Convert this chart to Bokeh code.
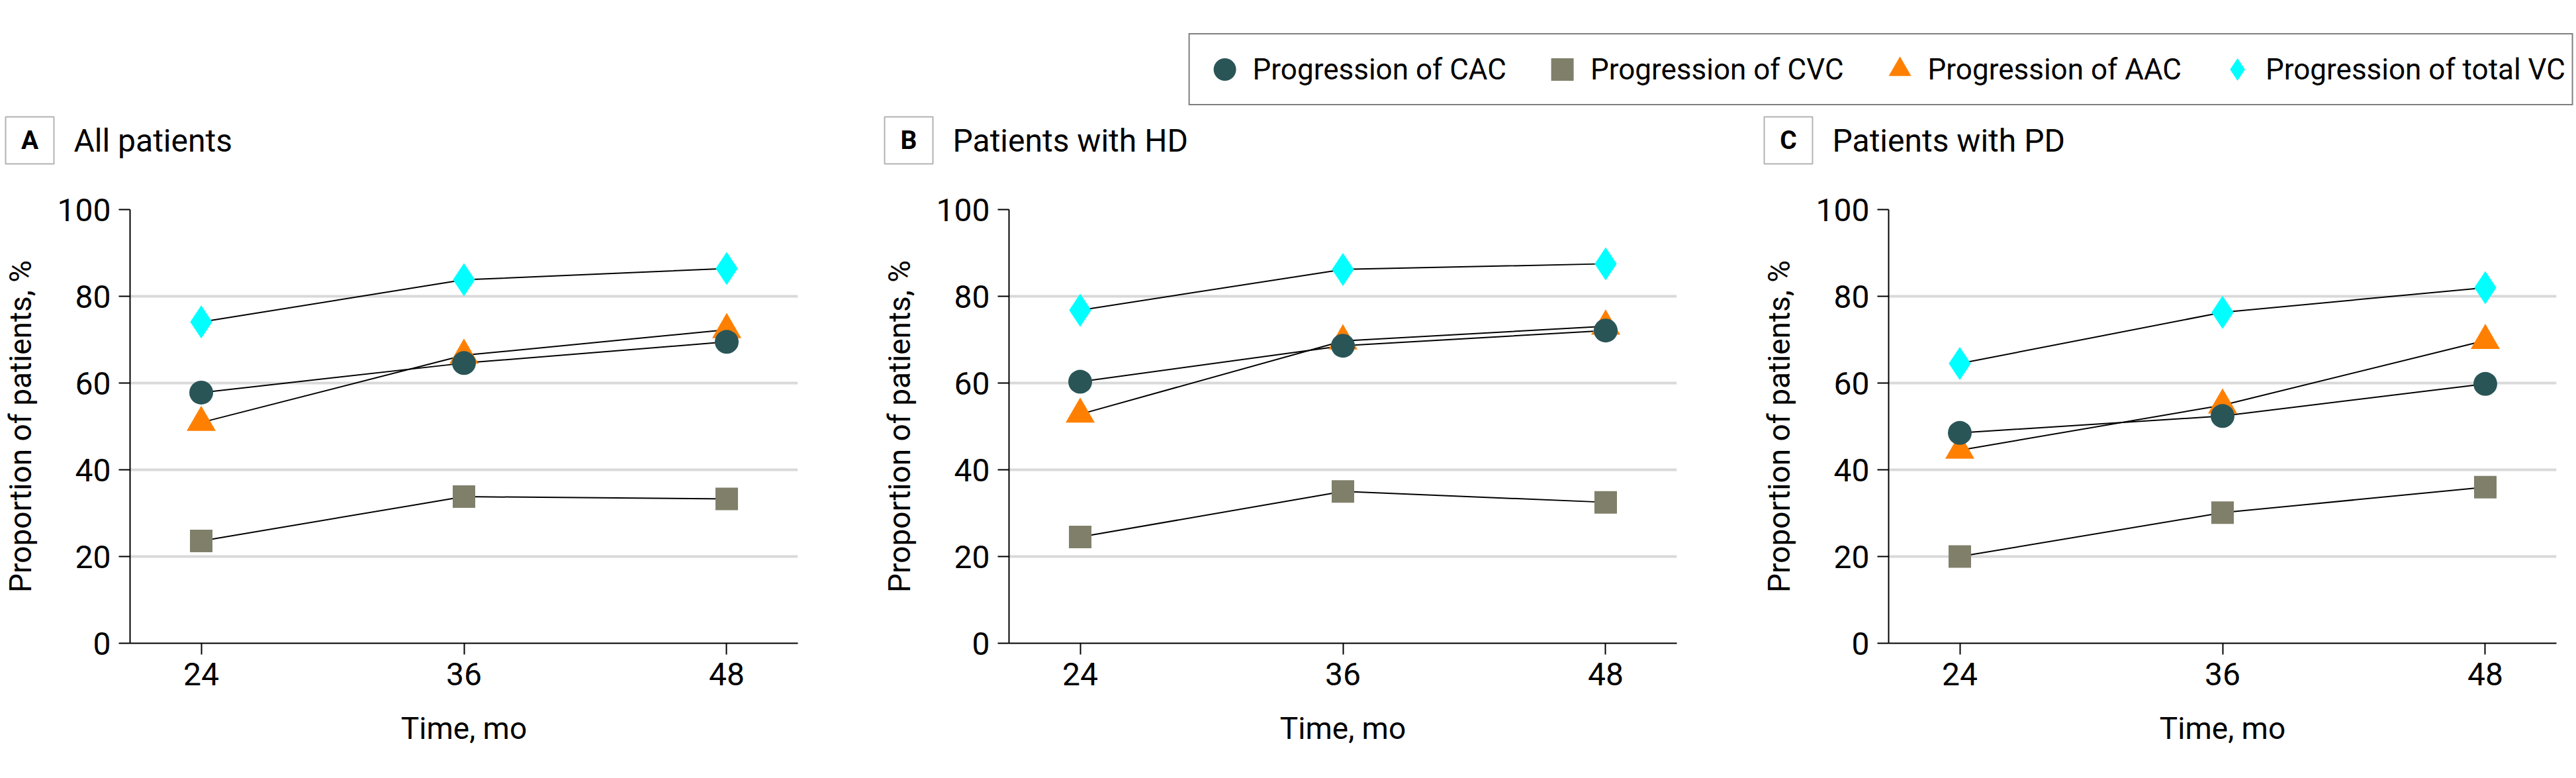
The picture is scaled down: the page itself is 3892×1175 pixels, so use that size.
from bokeh.plotting import figure
from bokeh.models import Range1d, FixedTicker, Legend, LegendItem, Label, BoxAnnotation
from bokeh.layouts import column, row
from bokeh.embed import file_html
from bokeh.resources import INLINE

# ---------------- data ----------------
months = [24, 36, 48]
x_ticks = [24, 36, 48]
y_ticks = [0, 20, 40, 60, 80, 100]

panel_letters = ["A", "B", "C"]
panel_titles = ["All patients", "Patients with HD", "Patients with PD"]
series_names = ["Progression of CAC", "Progression of CVC",
                "Progression of AAC", "Progression of total VC"]

cac_all = [57.8, 64.6, 69.5]
cvc_all = [23.6, 33.8, 33.3]
aac_all = [50.9, 66.4, 72.3]
tvc_all = [74.1, 83.8, 86.4]

cac_hd = [60.3, 68.6, 72.1]
cvc_hd = [24.5, 35.0, 32.5]
aac_hd = [52.8, 69.7, 73.1]
tvc_hd = [76.8, 86.2, 87.5]

cac_pd = [48.5, 52.4, 59.8]
cvc_pd = [20.0, 30.1, 36.0]
aac_pd = [44.5, 54.9, 69.8]
tvc_pd = [64.5, 76.3, 82.0]

# ---------------- style ----------------
FONT = "Roboto"
COLORS = ["#2a5557", "#807f6a", "#ff8000", "#00ffff"]
MARKERS = ["circle", "square", "triangle", "diamond"]
SIZES = [36, 34, 44, 50]
DRAW_ORDER = [1, 2, 0, 3]   # markers: square, triangle, circle, diamond

PAGE_W = 3892
PAGE_H = 1175
HEADER_H = 263
FRAME_W = 1013
BORDER_L = 192
PITCH = 1328.5

panels_data = [
    [cac_all, cvc_all, aac_all, tvc_all],
    [cac_hd, cvc_hd, aac_hd, tvc_hd],
    [cac_pd, cvc_pd, aac_pd, tvc_pd],
]

# ---------------- header (legend + panel titles) ----------------
header = figure(width=PAGE_W, height=HEADER_H, output_backend="svg",
                toolbar_location=None, x_axis_type=None, y_axis_type=None,
                x_range=Range1d(0, PAGE_W), y_range=Range1d(HEADER_H, 46),
                min_border_left=0, min_border_right=0, min_border_top=46,
                min_border_bottom=0, outline_line_color=None)
header.title.visible = False
header.xgrid.visible = False
header.ygrid.visible = False

items = []
for name, col, mk in zip(series_names, COLORS, MARKERS):
    # off-screen placeholder: only used to draw the legend swatch
    r = header.scatter(x=[-1000], y=[-1000], marker=mk, fill_color=col,
                       line_color=None)
    items.append(LegendItem(label=name, renderers=[r]))

legend = Legend(items=items, orientation="horizontal", location="top_right",
                margin=4, padding=10, spacing=42, glyph_width=85, glyph_height=85,
                label_standoff=0, border_line_color="black", border_line_width=2.5,
                background_fill_color="white", background_fill_alpha=1.0,
                label_text_font=FONT, label_text_font_size="44px",
                label_text_color="black")
header.add_layout(legend, "center")

for i, (letter, title) in enumerate(zip(panel_letters, panel_titles)):
    frame_left = round(BORDER_L + i * PITCH)
    header.add_layout(BoxAnnotation(left=frame_left - 184, right=frame_left - 111,
                                    top=176, bottom=247, fill_color=None,
                                    line_color="black", line_width=2))
    header.add_layout(Label(x=frame_left - 147.5, y=211.5, text=letter,
                            text_align="center", text_baseline="middle",
                            text_font=FONT, text_font_style="bold",
                            text_font_size="39px", text_color="black"))
    header.add_layout(Label(x=frame_left - 81, y=212, text=title,
                            text_align="left", text_baseline="middle",
                            text_font=FONT, text_font_size="48px",
                            text_color="black"))

# ---------------- panels ----------------
figs = []
x0 = 0
for i, series in enumerate(panels_data):
    x1 = round((i + 1) * PITCH) if i < 2 else PAGE_W
    width = x1 - x0
    frame_left = round(BORDER_L + i * PITCH) - x0
    border_r = width - frame_left - FRAME_W
    x0 = x1
    p = figure(width=width, height=PAGE_H - HEADER_H, output_backend="svg",
               toolbar_location=None,
               x_range=Range1d(20.75, 51.25), y_range=Range1d(0, 100),
               min_border_left=frame_left, min_border_right=border_r,
               min_border_top=53, min_border_bottom=PAGE_H - HEADER_H - 53 - 655,
               outline_line_color=None)
    p.title.visible = False
    p.xgrid.visible = False
    p.ygrid.ticker = FixedTicker(ticks=y_ticks[1:])
    p.ygrid.grid_line_color = "#d9d9d9"
    p.ygrid.grid_line_width = 4

    for ax, ticks in ((p.xaxis, x_ticks), (p.yaxis, y_ticks)):
        ax.ticker = FixedTicker(ticks=ticks)
        ax.minor_tick_line_color = None
        ax.major_tick_in = 0
        ax.major_tick_out = 17
        ax.major_tick_line_width = 2
        ax.axis_line_width = 2
        ax.axis_line_color = "black"
        ax.major_tick_line_color = "black"
        ax.major_label_text_font = FONT
        ax.major_label_text_font_size = "48px"
        ax.major_label_text_color = "black"
        ax.axis_label_text_font = FONT
        ax.axis_label_text_font_size = "46px"
        ax.axis_label_text_font_style = "normal"
        ax.axis_label_text_color = "black"
    p.xaxis.axis_label = "Time, mo"
    p.yaxis.axis_label = "Proportion of patients, %"
    p.xaxis.major_label_standoff = 12
    p.xaxis.axis_label_standoff = 35
    p.yaxis.major_label_standoff = 12
    p.yaxis.axis_label_standoff = 26

    for vals in series:
        p.line(months, vals, line_color="black", line_width=2)
    for k in DRAW_ORDER:
        p.scatter(months, series[k], marker=MARKERS[k], size=SIZES[k],
                  fill_color=COLORS[k], line_color=None)
    figs.append(p)

layout = column(header, row(*figs))
open("out.html", "w").write(file_html(layout, INLINE))
